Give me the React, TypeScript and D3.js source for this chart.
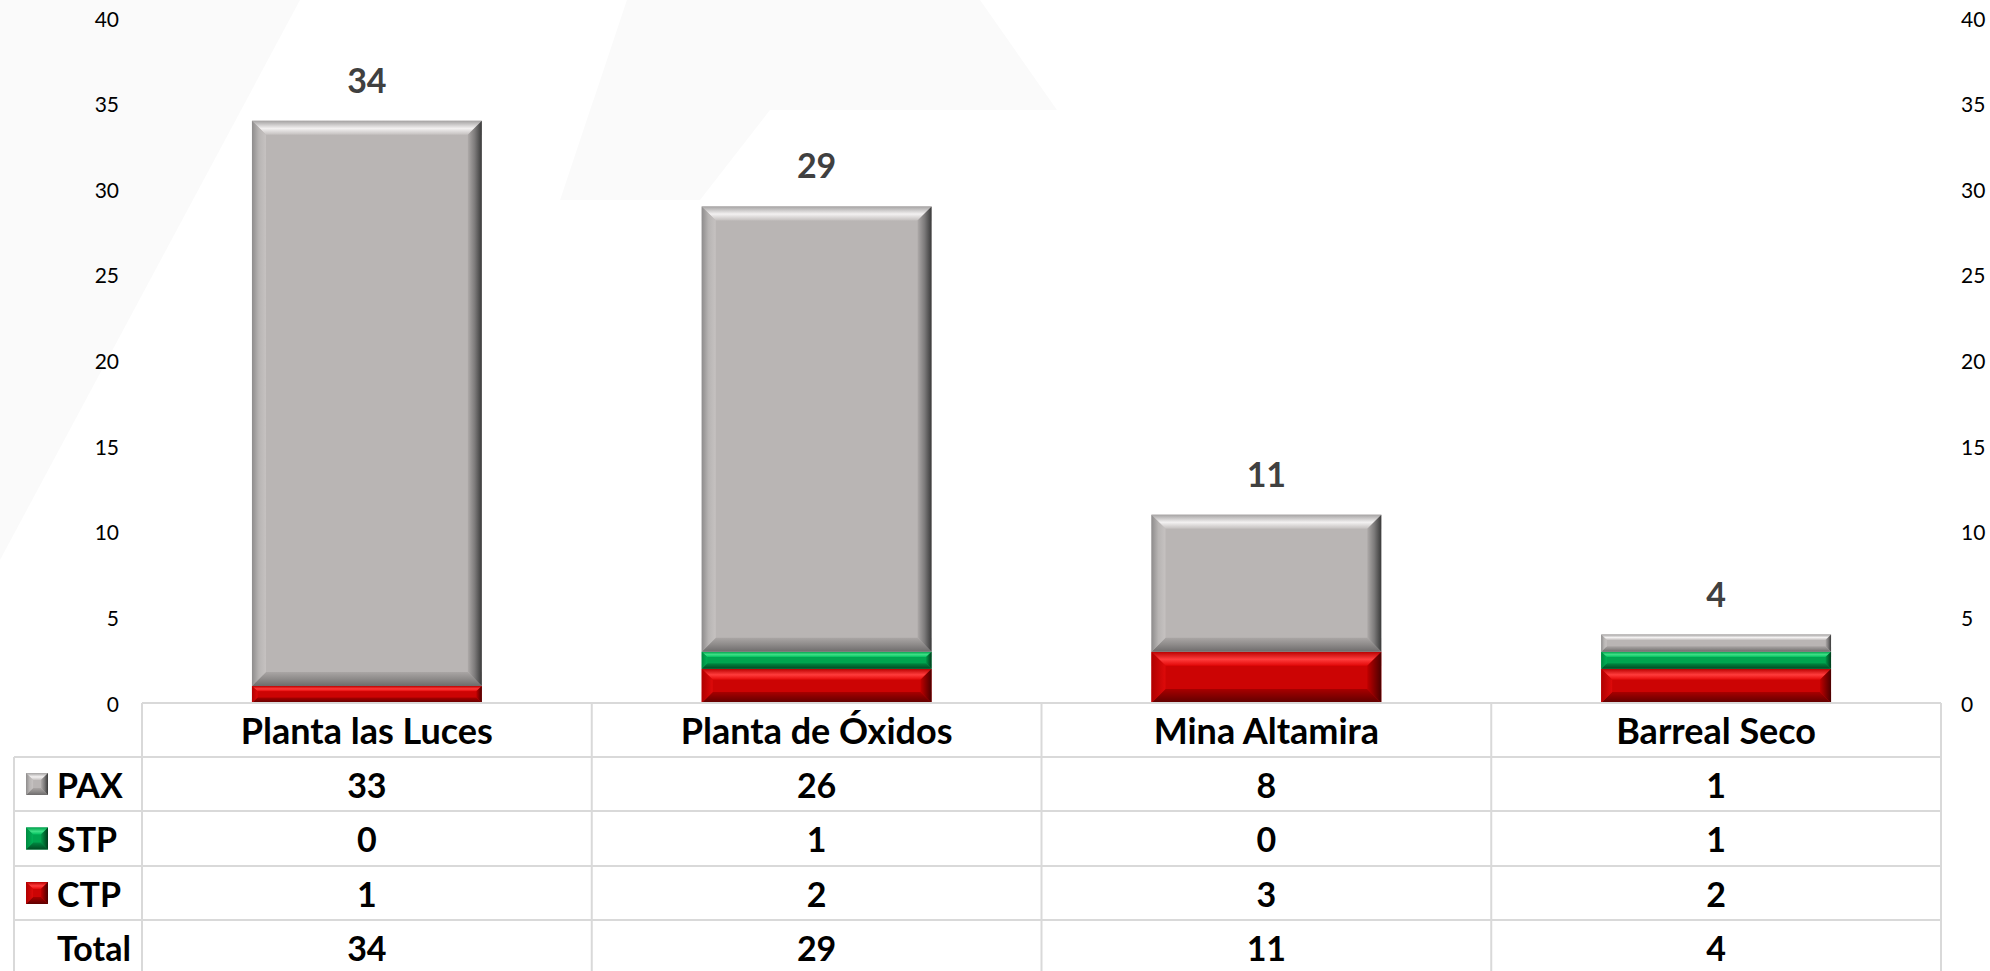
import React from 'react'
import * as d3 from 'd3'

const categories = ['Planta las Luces', 'Planta de Óxidos', 'Mina Altamira', 'Barreal Seco']
const pax = [33, 26, 8, 1]
const stp = [0, 1, 0, 1]
const ctp = [1, 2, 3, 2]
const seriesKeys = ['CTP', 'STP', 'PAX']
const tableOrder = ['PAX', 'STP', 'CTP']
const yTicks = [0, 5, 10, 15, 20, 25, 30, 35, 40]

const W = 1990
const H = 971
const font = 'Lato, "Open Sans", sans-serif'

// bevel colours per series: base, then gradient stops (outer edge -> inner) for each side
const palettes: any = {
    PAX: {
        base: '#b9b5b4',
        top: [['0', '#a4a2a2'], ['0.55', '#f3f1f1'], ['1', '#c4c0bf']],
        left: [['0', '#8e8c8c'], ['0.5', '#b8b5b4'], ['1', '#c6c2c1']],
        right: [['0', '#3a3a3a'], ['0.5', '#7c7a7a'], ['1', '#aeaaa9']],
        bottom: [['0', '#6e6c6c'], ['0.5', '#8e8b8a'], ['1', '#aaa6a5']]
    },
    STP: {
        base: '#00a54f',
        top: [['0', '#00a04c'], ['0.55', '#3ee086'], ['1', '#00c05e']],
        left: [['0', '#008a40'], ['1', '#00b056']],
        right: [['0', '#003a1a'], ['1', '#009a48']],
        bottom: [['0', '#004a22'], ['1', '#008a42']]
    },
    CTP: {
        base: '#cc0404',
        top: [['0', '#b80000'], ['0.55', '#ff3c3c'], ['1', '#e20808']],
        left: [['0', '#b00000'], ['1', '#de0a0a']],
        right: [['0', '#4a0000'], ['1', '#c00000']],
        bottom: [['0', '#5e0000'], ['1', '#a80000']]
    }
}

const grad = { top: [0, 0, 0, 1], bottom: [0, 1, 0, 0], left: [0, 0, 1, 0], right: [1, 0, 0, 0] }

function BevelRect({ x, y, w, h, k, bmax }: any) {
    if (h <= 0) return null
    const p = palettes[k]
    const b = Math.min(bmax, h * 0.32, w / 2)
    const pts = (a: number[][]) => a.map(q => q.join(',')).join(' ')
    return (
        <g>
            <rect x={x} y={y} width={w} height={h} fill={p.base} />
            <polygon points={pts([[x, y], [x + w, y], [x + w - b, y + b], [x + b, y + b]])} fill={`url(#g-${k}-top)`} />
            <polygon points={pts([[x, y + h], [x + w, y + h], [x + w - b, y + h - b], [x + b, y + h - b]])} fill={`url(#g-${k}-bottom)`} />
            <polygon points={pts([[x, y], [x + b, y + b], [x + b, y + h - b], [x, y + h]])} fill={`url(#g-${k}-left)`} />
            <polygon points={pts([[x + w, y], [x + w - b, y + b], [x + w - b, y + h - b], [x + w, y + h]])} fill={`url(#g-${k}-right)`} />
        </g>
    )
}

export default function App() {
    document.body.style.margin = '0'
    document.body.style.overflow = 'hidden'

    const tableLeft = 142
    const tableRight = 1941
    const legendLeft = 14
    const rows = [703, 757, 811, 866, 920, 975]

    const x = d3.scaleBand<string>()
        .domain(categories)
        .range([tableLeft, tableRight])
        .paddingInner(0.489)
        .paddingOuter(0.2445)
    const step = x.step()
    const colLeft = (i: number) => tableLeft + i * step

    const y = d3.scaleLinear().domain([0, 40]).range([703, 18])

    const table = categories.map((c, i) => ({ cat: c, PAX: pax[i], STP: stp[i], CTP: ctp[i] }))
    const stacked = d3.stack<any>().keys(seriesKeys)(table)
    const totals = table.map(d => d.PAX + d.STP + d.CTP)

    const rowMid = (r: number) => (rows[r] + rows[r + 1]) / 2
    const gridColor = '#d9d9d9'

    return (
        <svg width={W} height={H} style={{ position: 'absolute', left: 0, top: 0, background: '#fff' }}>
            <defs>
                {seriesKeys.map(k =>
                    (Object.keys(grad) as (keyof typeof grad)[]).map(side => {
                        const g = grad[side]
                        return (
                            <linearGradient key={k + side} id={`g-${k}-${side}`} x1={g[0]} y1={g[1]} x2={g[2]} y2={g[3]}>
                                {palettes[k][side].map((s: string[], j: number) => (
                                    <stop key={j} offset={s[0]} stopColor={s[1]} />
                                ))}
                            </linearGradient>
                        )
                    })
                )}
            </defs>

            {/* very faint watermark in the background */}
            <g fill="#fafafa">
                <polygon points="0,0 300,0 0,560" />
                <polygon points="627,0 980,0 1057,110 770,110 700,200 560,200" />
            </g>

            {/* y axis labels, left and right */}
            {yTicks.map(t => (
                <g key={t} fontFamily={font} fontSize={21} fill="#000">
                    <text x={119} y={y(t)} textAnchor="end" dominantBaseline="central">{t}</text>
                    <text x={1961} y={y(t)} textAnchor="start" dominantBaseline="central">{t}</text>
                </g>
            ))}

            {/* bars */}
            {stacked.map(s => (
                <g key={s.key}>
                    {s.map((d, i) => (
                        <BevelRect
                            key={i}
                            k={s.key}
                            x={x(categories[i])}
                            y={y(d[1])}
                            w={x.bandwidth()}
                            h={y(d[0]) - y(d[1])}
                            bmax={14}
                        />
                    ))}
                </g>
            ))}

            {/* total labels */}
            {categories.map((c, i) => (
                <text key={c} x={x(c)! + x.bandwidth() / 2} y={y(totals[i]) - 28} textAnchor="middle"
                    fontFamily={font} fontWeight={700} fontSize={34} fill="#404040">
                    {totals[i]}
                </text>
            ))}

            {/* data table grid */}
            <g stroke={gridColor} strokeWidth={2} fill="none">
                <line x1={tableLeft} x2={tableRight} y1={rows[0]} y2={rows[0]} />
                {rows.slice(1).map(r => (
                    <line key={r} x1={legendLeft} x2={tableRight} y1={r} y2={r} />
                ))}
                {categories.map((c, i) => (
                    <line key={c} x1={colLeft(i)} x2={colLeft(i)} y1={rows[0]} y2={H} />
                ))}
                <line x1={tableRight} x2={tableRight} y1={rows[0]} y2={H} />
                <line x1={legendLeft} x2={legendLeft} y1={rows[1]} y2={H} />
            </g>

            <g fontFamily={font} fontWeight={700} fontSize={34} fill="#000">
                {categories.map((c, i) => (
                    <text key={c} x={colLeft(i) + step / 2} y={rowMid(0)} fontSize={36} textAnchor="middle" dominantBaseline="central">{c}</text>
                ))}
                {tableOrder.map((k, r) => (
                    <g key={k}>
                        <BevelRect k={k} x={26} y={rowMid(r + 1) - 11} w={22} h={22} bmax={11} />
                        <text x={57} y={rowMid(r + 1)} dominantBaseline="central">{k}</text>
                        {table.map((d: any, i) => (
                            <text key={i} x={colLeft(i) + step / 2} y={rowMid(r + 1)} textAnchor="middle" dominantBaseline="central">{d[k]}</text>
                        ))}
                    </g>
                ))}
                <text x={57} y={rowMid(4)} dominantBaseline="central">Total</text>
                {totals.map((t, i) => (
                    <text key={i} x={colLeft(i) + step / 2} y={rowMid(4)} textAnchor="middle" dominantBaseline="central">{t}</text>
                ))}
            </g>
        </svg>
    )
}
